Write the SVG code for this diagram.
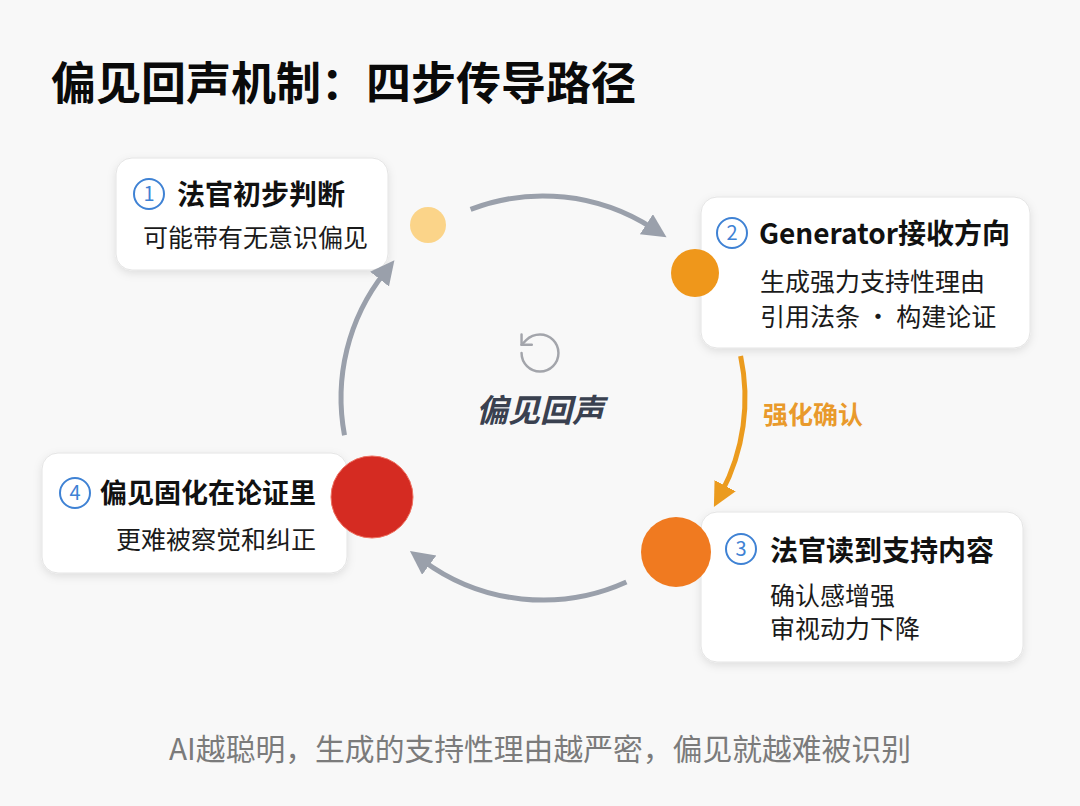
<svg xmlns="http://www.w3.org/2000/svg" width="1080" height="806" viewBox="0 0 1080 806">
<defs>
<style>
.bg{fill:#f8f8f8}
.card{fill:#ffffff;stroke:#e4e4e4;stroke-width:1;filter:url(#sh)}
.t{font-family:"Noto Sans CJK SC","Noto Sans",sans-serif;fill:#111111}
.title{font-size:45px;font-weight:700;fill:#0a0a0a}
.h{font-size:28px;font-weight:700}
.s{font-size:25px;font-weight:400;fill:#1a1a1a}
.center{font-size:32px;font-weight:700;font-style:italic;fill:#3a4150}
.lbl{font-size:25px;font-weight:700;fill:#e99a2c}
.cap{font-size:29.8px;font-weight:400;fill:#7b7b7b}
.num{fill:#ffffff;stroke:#3f82d4;stroke-width:2}
.numt{font-family:"Noto Sans CJK SC","Noto Sans",sans-serif;font-size:20px;fill:#3f82d4;text-anchor:middle}
.gray{fill:none;stroke:#9aa0ab;stroke-width:5;stroke-linecap:butt}
.orange{fill:none;stroke:#eb9b1e;stroke-width:5;stroke-linecap:butt}
</style>
<filter id="sh" x="-10%" y="-10%" width="120%" height="130%">
<feDropShadow dx="0" dy="3" stdDeviation="4" flood-color="#000000" flood-opacity="0.10"/>
</filter>
<marker id="ag" markerUnits="userSpaceOnUse" markerWidth="26" markerHeight="26" refX="8" refY="12" orient="auto">
<path d="M0,0 L24,12 L0,24 z" fill="#9aa0ab"/>
</marker>
<marker id="ao" markerUnits="userSpaceOnUse" markerWidth="26" markerHeight="26" refX="8" refY="12" orient="auto">
<path d="M0,0 L24,12 L0,24 z" fill="#eb9b1e"/>
</marker>
</defs>
<rect class="bg" x="0" y="0" width="1080" height="806"/>
<text class="t title" x="51" y="100">偏见回声机制：四步传导路径</text>

<g id="node1">
<rect class="card" x="116" y="158" width="272" height="112" rx="16"/>
<circle class="num" cx="149" cy="194" r="15"/>
<text class="numt" x="149" y="201">1</text>
<text class="t h" x="177" y="205">法官初步判断</text>
<text class="t s" x="143" y="247">可能带有无意识偏见</text>
<circle cx="428" cy="225" r="18" fill="#fbd489"/>
</g>

<g id="node2">
<rect class="card" x="701" y="197" width="329" height="151" rx="16"/>
<circle class="num" cx="732" cy="233" r="15"/>
<text class="numt" x="732" y="240">2</text>
<text class="t h" x="759" y="244">Generator接收方向</text>
<text class="t s" x="760" y="291">生成强力支持性理由</text>
<text class="t s" x="760" y="326">引用法条 · 构建论证</text>
<circle cx="695" cy="273" r="24" fill="#ef971b"/>
</g>

<g id="node3">
<rect class="card" x="701" y="512" width="322" height="150" rx="16"/>
<circle class="num" cx="741" cy="549" r="15"/>
<text class="numt" x="741" y="556">3</text>
<text class="t h" x="770" y="561">法官读到支持内容</text>
<text class="t s" x="770" y="605">确认感增强</text>
<text class="t s" x="770" y="638">审视动力下降</text>
<circle cx="676" cy="552" r="35" fill="#f07a20"/>
</g>

<g id="node4">
<rect class="card" x="42" y="453" width="305" height="120" rx="16"/>
<circle class="num" cx="75" cy="493" r="15"/>
<text class="numt" x="75" y="500">4</text>
<text class="t h" x="316" y="503" text-anchor="end" style="font-size:27px">偏见固化在论证里</text>
<text class="t s" x="316" y="549" text-anchor="end">更难被察觉和纠正</text>
<circle cx="372" cy="497" r="41" fill="#d52b22" stroke="#ee7060" stroke-width="1"/>
</g>

<g id="center">
<g transform="translate(540,353) scale(2.05) translate(-12,-12)" fill="none" stroke="#a3a5ab" stroke-width="1.2" stroke-linecap="round" stroke-linejoin="round">
<path d="M3 12a9 9 0 1 0 9-9 9.75 9.75 0 0 0-6.74 2.74L3 8"/>
<path d="M3 3v5h5"/>
</g>
<text class="t center" x="540" y="422" text-anchor="middle">偏见回声</text>
</g>

<g id="connectors">
<path class="gray" d="M470.6,209.4 A202,202 0 0 1 653.1,228.6" marker-end="url(#ag)"/>
<path class="orange" d="M740.6,356 A202,202 0 0 1 721.4,492.8" marker-end="url(#ao)"/>
<path class="gray" d="M626.4,582 A202,202 0 0 1 422.8,560.4" marker-end="url(#ag)"/>
<path class="gray" d="M344.5,435.2 A202,202 0 0 1 384.5,272.8" marker-end="url(#ag)"/>
<text class="t lbl" x="763" y="424">强化确认</text>
</g>

<text class="t cap" x="540" y="760" text-anchor="middle">AI越聪明，生成的支持性理由越严密，偏见就越难被识别</text>
</svg>
